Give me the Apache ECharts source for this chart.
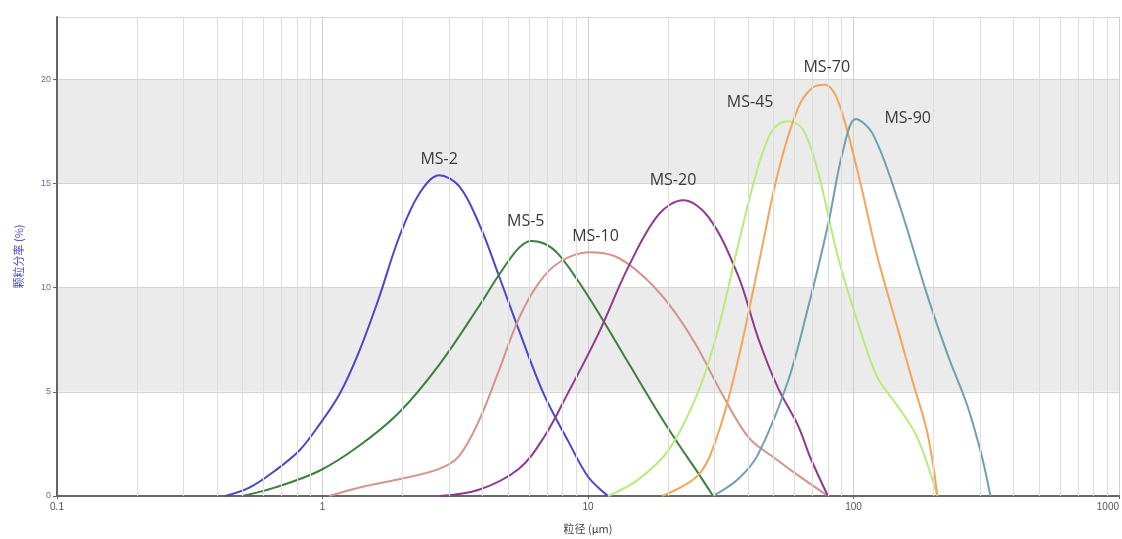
<!DOCTYPE html>
<html><head><meta charset="utf-8">
<script src="https://cdn.jsdelivr.net/npm/echarts@6/dist/echarts.min.js"></script>
<style>html,body{margin:0;padding:0;background:#fff}#c{width:1122px;height:539px}</style>
</head><body><div id="c"></div>
<script>
// particle size (um) and frequency (%) per sample
const names = ['MS-2','MS-5','MS-10','MS-20','MS-45','MS-70','MS-90'];
const ms2  = [[0.43,0],[0.53,0.4],[0.66,1.2],[0.82,2.2],[0.97,3.4],[1.16,4.9],[1.37,6.9],[1.63,9.5],[1.94,12.4],[2.31,14.5],[2.75,15.4],[3.26,14.9],[3.88,13.1],[4.61,10.6],[5.48,8.0],[6.81,4.9],[8.45,2.6],[10.04,0.9],[11.9,0]];
const ms5  = [[0.50,0],[0.66,0.4],[0.97,1.2],[1.37,2.4],[1.94,4.0],[2.75,6.3],[3.88,9.1],[4.61,10.6],[5.48,11.9],[6.1,12.25],[6.9,12.1],[7.75,11.6],[9.21,10.3],[10.95,8.8],[14.19,6.4],[18.4,4.0],[21.9,2.5],[26.0,1.1],[29.6,0]];
const ms10 = [[1.06,0],[1.37,0.4],[1.94,0.8],[2.75,1.3],[3.26,1.9],[3.88,3.6],[4.61,6.0],[5.48,8.5],[6.5,10.2],[7.75,11.2],[10.04,11.7],[12.7,11.5],[16.0,10.6],[20.2,9.2],[25.4,7.3],[32.0,4.9],[40.3,2.8],[50.7,1.8],[61.7,1.0],[80.1,0]];
const ms20 = [[2.75,0],[3.88,0.3],[5.48,1.3],[6.81,2.8],[8.45,5.0],[10.95,7.8],[14.19,11.0],[18.4,13.5],[22.8,14.2],[28.4,13.4],[36.7,10.6],[43.7,7.6],[51.9,5.2],[61.7,3.4],[69.0,1.8],[80.1,0]];
const ms45 = [[11.9,0],[15.5,0.8],[20.1,2.2],[26.0,5.0],[30.9,8.0],[36.7,12.0],[43.7,15.8],[49.7,17.6],[56.6,18.0],[64.5,17.6],[73.4,15.6],[87.3,11.5],[104,8.3],[123,5.7],[147,4.3],[174,2.8],[207,0]];
const ms70 = [[19.0,0],[26.0,1.0],[30.9,3.0],[36.7,6.5],[43.7,11.0],[51.9,15.5],[61.7,18.6],[70.0,19.6],[78.0,19.75],[87.3,19.0],[104,15.5],[123,11.5],[147,8.0],[167,5.5],[190,3.0],[207,0]];
const ms90 = [[29.6,0],[36.7,0.8],[43.7,2.0],[56.6,5.5],[67.3,9.0],[80.1,13.0],[91.0,16.5],[102,18.1],[118,17.4],[147,14.2],[190,9.6],[226,6.8],[269,4.3],[303,2.0],[328,0]];
const labelAnchors = [[2.75,16.15],[5.83,13.17],[10.67,12.45],[20.9,15.14],[40.8,18.9],[79.3,20.58],[160,18.13]];
const xTickLabels = ['0.1','1','10','100','1000'];
const yTickLabels = ['0','5','10','15','20'];
const decades = [0.1,1,10,100];
const minorSteps = [2,3,4,5,6,7,8,9];

const seriesData = [ms2,ms5,ms10,ms20,ms45,ms70,ms90];
const colors = ['#4848c8','#3d7f3d','#d4938c','#8e3a8e','#b8ec7a','#f2a65a','#6fa0b0'];

const minorVals = [];
decades.forEach(d => minorSteps.forEach(k => minorVals.push(+(d*k).toPrecision(3))));

const series = seriesData.map((d,i) => ({
  name: names[i], type: 'line', data: d, smooth: 0.35, showSymbol: false,
  lineStyle: {color: colors[i], width: 2}, itemStyle: {color: colors[i]},
  z: 3,
  markPoint: {
    symbol: 'circle', symbolSize: 0, silent: true,
    data: [{coord: labelAnchors[i], name: names[i]}],
    label: {show: true, position: 'inside', formatter: names[i], color: '#3a3a3a', fontSize: 16, fontFamily: 'Open Sans'}
  }
}));
series.push({
  type: 'line', data: [], silent: true, z: 1,
  markLine: {
    silent: true, symbol: 'none', label: {show: false},
    lineStyle: {color: '#dedede', width: 1, type: 'solid'},
    data: minorVals.map(v => ({xAxis: v}))
  }
});

const chart = echarts.init(document.getElementById('c'));
chart.setOption({
  animation: false,
  backgroundColor: '#fff',
  grid: {left: 57, right: 0, top: 17, bottom: 43},
  xAxis: {
    type: 'log', logBase: 10, min: 0.1, max: 1000,
    name: '粒径 (μm)', nameLocation: 'middle', nameGap: 27,
    nameTextStyle: {color: '#444', fontSize: 11, fontFamily: 'Noto Sans CJK SC'},
    axisLine: {lineStyle: {color: '#666', width: 2}},
    axisTick: {show: true, length: 3, lineStyle: {color: '#666'}},
    axisLabel: {color: '#555', fontSize: 10, margin: 6, alignMaxLabel: 'right',
      formatter: v => xTickLabels.find(t => Math.abs(parseFloat(t) - v) < 1e-9 * Math.max(1, v)) || ''},
    splitLine: {show: true, lineStyle: {color: '#cfcfcf', width: 1}}
  },
  yAxis: {
    type: 'value', min: 0, max: 23, interval: 5,
    name: '颗粒分率 (%)', nameLocation: 'middle', nameGap: 33,
    nameTextStyle: {color: '#4a4ad0', fontSize: 11, fontFamily: 'Noto Sans CJK SC'},
    axisLine: {show: true, lineStyle: {color: '#666', width: 2}},
    axisTick: {show: true, length: 4, lineStyle: {color: '#666'}},
    axisLabel: {color: '#6a6aa0', fontSize: 9, margin: 6, showMaxLabel: false,
      formatter: v => yTickLabels.includes(String(v)) ? String(v) : ''},
    splitLine: {show: true, lineStyle: {color: '#d4d4d4', width: 1}},
    splitArea: {show: true, areaStyle: {color: ['rgba(255,255,255,0)', '#ebebeb']}}
  },
  series: series
});
</script></body></html>
